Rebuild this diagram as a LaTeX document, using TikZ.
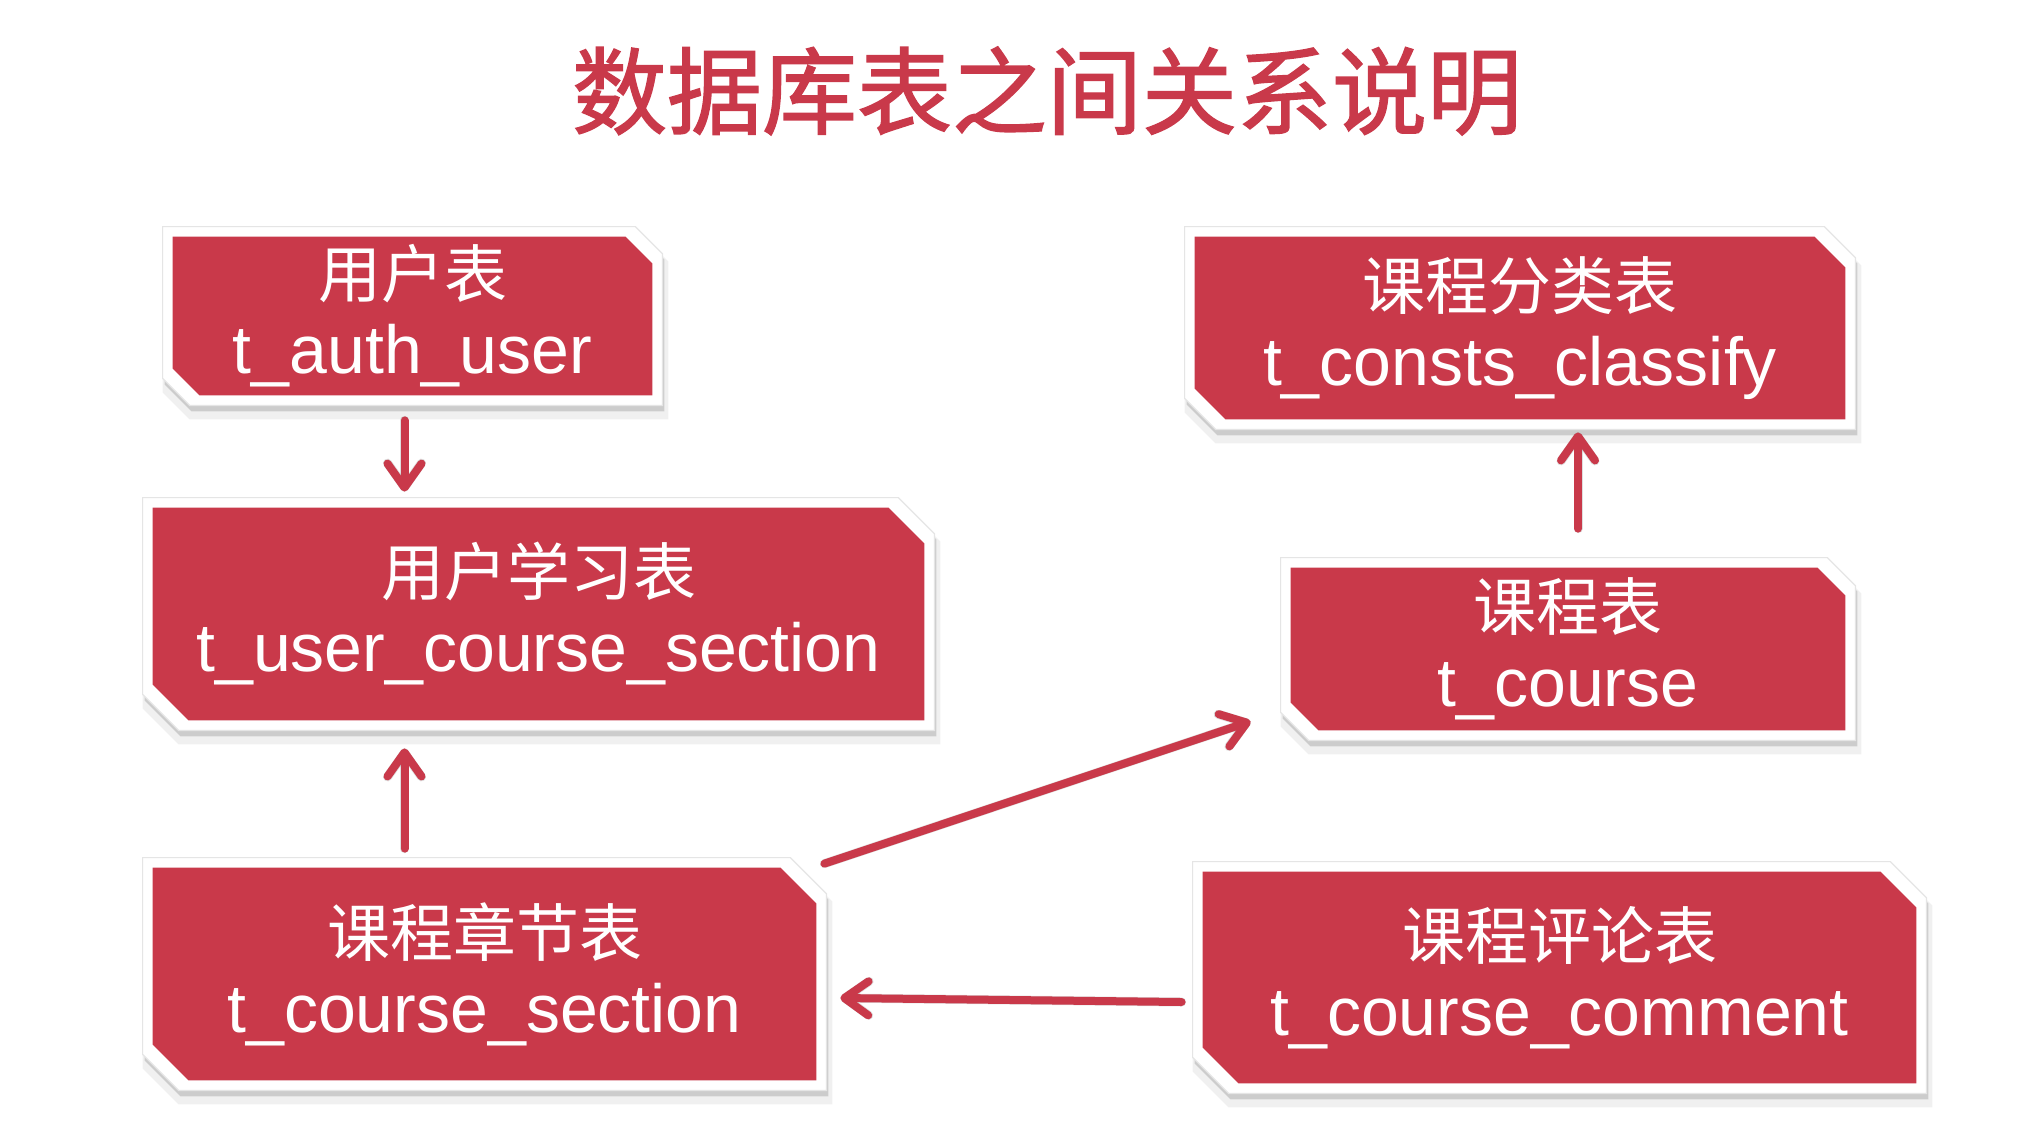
\documentclass[tikz,border=0pt]{standalone}
\usepackage{fontspec}
\setmainfont{Liberation Sans}
\newfontfamily\zh{Noto Sans CJK SC}
\newfontfamily\zhtitle[FakeBold=1.5]{Noto Sans CJK SC}
\usetikzlibrary{arrows.meta,backgrounds}
\definecolor{brick}{RGB}{201,57,74}
\newcommand\zhbox{\zh\fontsize{31.5}{38}\selectfont}
\tikzset{
  tbl/.style={rectangle, draw=none, inner sep=0pt, text=white, align=center,
    font=\fontsize{34}{38}\selectfont},
  chpath/.style n args={5}{insert path={
    ([shift={(-#2+#4,-#2+#5)}]#1.north west) --
    ([shift={(#2-#3+#4,-#2+#5)}]#1.north east) --
    ([shift={(#2+#4,-#2+#3+#5)}]#1.north east) --
    ([shift={(#2+#4,#2+#5)}]#1.south east) --
    ([shift={(-#2+#3+#4,#2+#5)}]#1.south west) --
    ([shift={(-#2+#4,#2-#3+#5)}]#1.south west) -- cycle}},
  conn/.style={draw=brick, line width=4pt, line cap=round, line join=round,
    -{Straight Barb[length=12pt,width=17pt,round]}},
  connshadow/.style={draw=black, opacity=.13, line width=4.5pt, line cap=round, line join=round,
    -{Straight Barb[length=12pt,width=17pt,round]}, shift={(2,5)}},
}
% #1 name, #2 cx, #3 cy, #4 w, #5 h, #6 chamfer, #7 zh text, #8 en text
\newcommand\tbl[8]{%
  \node[tbl, minimum width=#4*0.5pt, minimum height=#5*0.5pt] (#1) at (#2,#3) {{\zhbox #7}\\#8};
  \begin{scope}[on background layer]
    \fill[black, opacity=.06, chpath={#1}{13}{#6}{3}{11}];
    \fill[black, opacity=.15, chpath={#1}{10}{#6}{2}{6}];
    \filldraw[fill=white, draw=black!10, line width=0.6pt, chpath={#1}{10}{#6}{0}{0}];
    \fill[brick, chpath={#1}{0}{#6}{0}{0}];
  \end{scope}}
\begin{document}
\begin{tikzpicture}[x=0.5pt, y=-0.5pt]
  \useasboundingbox (0,0) rectangle (2032,1124);
  \node[text=brick, font=\zhtitle\fontsize{47.5}{50}\selectfont] (title) at (1047,91) {数据库表之间关系说明};

  \tbl{A}{412.5}{316}{479}{158}{27}{用户表}{t\_auth\_user}
  \tbl{B}{538.5}{614}{771}{212}{36}{用户学习表}{t\_user\_course\_section}
  \tbl{C}{484.5}{974}{663}{212}{36}{课程章节表}{t\_course\_section}
  \tbl{D}{1520}{328}{650}{182}{31}{课程分类表}{t\_consts\_classify}
  \tbl{E}{1568}{649}{554}{162}{28}{课程表}{t\_course}
  \tbl{F}{1559.5}{977.5}{713}{211}{36}{课程评论表}{t\_course\_comment}

  % connector shadows
  \draw[connshadow] ([shift={(-8,25)}]A.south) -- ([shift={(-134,-16)}]B.north);
  \draw[connshadow] ([shift={(-80,-19)}]C.north) -- ([shift={(-134,28)}]B.south);
  \draw[connshadow] ([shift={(10,-39)}]E.north) -- ([shift={(58,13)}]D.south);
  \draw[connshadow] ([shift={(8,-4)}]C.north east) -- ([shift={(-40,-9)}]E.south west);
  \draw[connshadow] ([shift={(-21,24.5)}]F.west) -- ([shift={(24,24)}]C.east);
  % connectors
  \draw[conn] ([shift={(-8,25)}]A.south) -- ([shift={(-134,-16)}]B.north);
  \draw[conn] ([shift={(-80,-19)}]C.north) -- ([shift={(-134,28)}]B.south);
  \draw[conn] ([shift={(10,-39)}]E.north) -- ([shift={(58,13)}]D.south);
  \draw[conn] ([shift={(8,-4)}]C.north east) -- ([shift={(-40,-9)}]E.south west);
  \draw[conn] ([shift={(-21,24.5)}]F.west) -- ([shift={(24,24)}]C.east);
\end{tikzpicture}
\end{document}
